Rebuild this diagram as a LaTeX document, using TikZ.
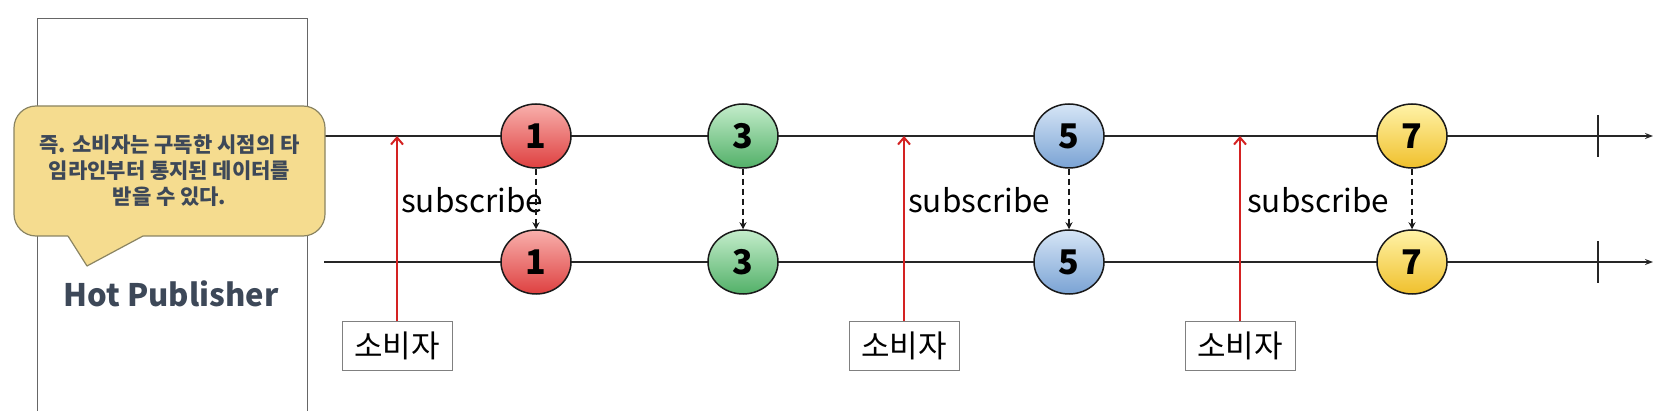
\documentclass[tikz,border=0pt]{standalone}
\usepackage{fontspec}
\setmainfont{Noto Sans CJK KR}
\usetikzlibrary{arrows.meta,shapes.geometric}
\definecolor{calloutfill}{HTML}{F5DC8F}
\definecolor{calloutdraw}{HTML}{8A8462}
\definecolor{slate}{HTML}{3D4858}
\definecolor{subred}{HTML}{D42222}
\definecolor{redA}{HTML}{F8B0AC}\definecolor{redB}{HTML}{DE4040}
\definecolor{grnA}{HTML}{C4EDCB}\definecolor{grnB}{HTML}{52B068}
\definecolor{bluA}{HTML}{D6E5F6}\definecolor{bluB}{HTML}{7AA3D4}
\definecolor{ylwA}{HTML}{FFF3A8}\definecolor{ylwB}{HTML}{F0C02C}
\begin{document}
\begin{tikzpicture}[x=1pt,y=-1pt,
  axisline/.style={line width=1.5pt, draw=black!85, -{Stealth[length=8pt,width=6pt]}},
  ball/.style={ellipse, draw=black!90, line width=1.5pt, minimum width=70pt, minimum height=64pt, inner sep=0pt, font=\bfseries\fontsize{34}{34}\selectfont},
  redball/.style={ball, top color=redA, bottom color=redB},
  grnball/.style={ball, top color=grnA, bottom color=grnB},
  bluball/.style={ball, top color=bluA, bottom color=bluB},
  ylwball/.style={ball, top color=ylwA, bottom color=ylwB},
  consumer/.style={draw=black!50, line width=1pt, fill=white, minimum width=110pt, minimum height=48pt, inner sep=0pt, font=\fontsize{31}{31}\selectfont},
  subarrow/.style={draw=subred, line width=2pt, -{Straight Barb[length=7pt,width=12pt]}},
  emit/.style={draw=black!90, line width=1.4pt, dash pattern=on 6pt off 4pt, -{Stealth[length=7pt,width=7pt]}},
  sublabel/.style={anchor=base west, inner sep=0pt, font=\fontsize{31.5}{31.5}\selectfont},
  endtick/.style={line width=1.5pt, draw=black!85}
]
\useasboundingbox (0,0) rectangle (1664,411);
% publisher column
\draw[draw=black!60, line width=1pt] (37,412) -- (37,19) -- (307,19) -- (307,412);
\node[font=\bfseries\fontsize{31}{31}\selectfont, text=slate] (hp) at (171,294) {Hot Publisher};

% timelines
\coordinate (ta) at (324,136);
\coordinate (tb) at (1653,136);
\coordinate (ba) at (324,262);
\coordinate (bb) at (1653,262);
\draw[axisline] (ta) -- (tb);
\draw[axisline] (ba) -- (bb);
\coordinate (ttick) at (1598,136);
\coordinate (btick) at (1598,262);
\draw[endtick] ([yshift=21pt]ttick) -- ([yshift=-21pt]ttick);
\draw[endtick] ([yshift=21pt]btick) -- ([yshift=-21pt]btick);

% callout
\node[draw=calloutdraw, fill=calloutfill, line width=1.2pt, rounded corners=22pt,
      minimum width=311pt, minimum height=130pt] (callout) at (169.5,171) {};
\fill[calloutfill] (68,232) -- (143,232) -- (143,236) -- (87,266) -- (68,236) -- cycle;
\draw[draw=calloutdraw, line width=1.2pt, line join=round] (68,236) -- (87,266) -- (143,236);
\node[text=slate, align=center, font=\bfseries\fontsize{21}{26}\selectfont] (ctext) at (169.5,171)
  {즉. 소비자는 구독한 시점의 타\\임라인부터 통지된 데이터를\\받을 수 있다.};

% consumers
\node[consumer] (c1) at (397,346) {소비자};
\node[consumer] (c2) at (904,346) {소비자};
\node[consumer] (c3) at (1240,346) {소비자};
\draw[subarrow] (c1.north) -- (c1.north |- ta);
\draw[subarrow] (c2.north) -- (c2.north |- ta);
\draw[subarrow] (c3.north) -- (c3.north |- ta);
\node[sublabel] (s1) at (401,213) {subscribe};
\node[sublabel] (s2) at (908,213) {subscribe};
\node[sublabel] (s3) at (1247,213) {subscribe};

% emitted items
\node[redball] (t1) at (536,136) {1};
\node[grnball] (t3) at (743,136) {3};
\node[bluball] (t5) at (1069,136) {5};
\node[ylwball] (t7) at (1412,136) {7};
\node[redball] (b1) at (536,262) {1};
\node[grnball] (b3) at (743,262) {3};
\node[bluball] (b5) at (1069,262) {5};
\node[ylwball] (b7) at (1412,262) {7};
\draw[emit] (t1.south) -- (b1.north);
\draw[emit] (t3.south) -- (b3.north);
\draw[emit] (t5.south) -- (b5.north);
\draw[emit] (t7.south) -- (b7.north);
\end{tikzpicture}
\end{document}
